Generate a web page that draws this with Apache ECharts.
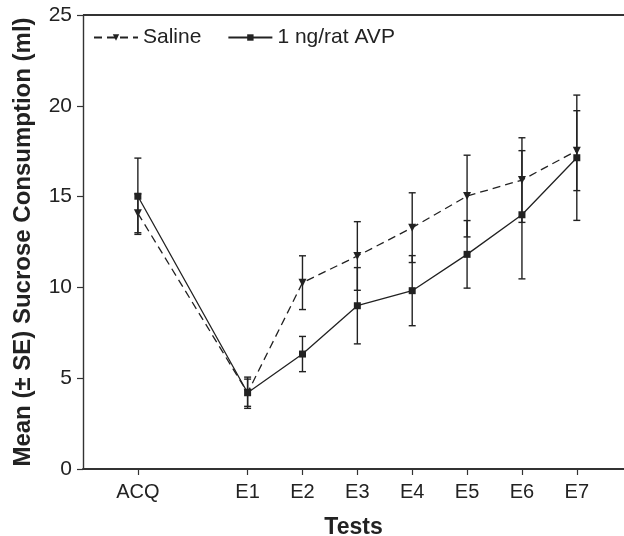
<!DOCTYPE html>
<html>
<head>
<meta charset="utf-8">
<script src="https://cdn.jsdelivr.net/npm/echarts@6/dist/echarts.min.js"></script>
<style>
  html, body { margin: 0; padding: 0; background: #fff; }
  #chart { width: 624px; height: 536px; }
</style>
</head>
<body>
<div id="chart"></div>
<script>
// test positions on the x axis (ACQ sits one extra step left of E1)
const tests = ['ACQ', 'E1', 'E2', 'E3', 'E4', 'E5', 'E6', 'E7']
const positions = [0, 2, 3, 4, 5, 6, 7, 8]

const salineMean = [14.08, 4.2, 10.26, 11.73, 13.29, 15.03, 15.91, 17.53]
const salineSE = [1.07, 0.75, 1.48, 1.89, 1.92, 2.25, 2.33, 2.2]
const avpMean = [15.02, 4.2, 6.33, 8.99, 9.82, 11.82, 14.0, 17.14]
const avpSE = [2.1, 0.86, 0.97, 2.1, 1.93, 1.86, 3.53, 3.45]

const yTicks = [0, 5, 10, 15, 20, 25]

const ink = '#222'
const pts = (means) => means.map((m, i) => [positions[i], m])
const bars = (means, se) => means.map((m, i) => [positions[i], m - se[i], m + se[i]])

const errorSeries = (name, data) => ({
  name: name,
  type: 'custom',
  data: data,
  z: 1,
  silent: true,
  encode: { x: 0, y: [1, 2] },
  renderItem: (params, api) => {
    const lo = api.coord([api.value(0), api.value(1)])
    const hi = api.coord([api.value(0), api.value(2)])
    const w = 3.5
    const style = { stroke: ink, lineWidth: 1.4 }
    return {
      type: 'group',
      children: [
        { type: 'line', shape: { x1: hi[0], y1: hi[1], x2: lo[0], y2: lo[1] }, style: style },
        { type: 'line', shape: { x1: hi[0] - w, y1: hi[1], x2: hi[0] + w, y2: hi[1] }, style: style },
        { type: 'line', shape: { x1: lo[0] - w, y1: lo[1], x2: lo[0] + w, y2: lo[1] }, style: style }
      ]
    }
  }
})

const option = {
  animation: false,
  backgroundColor: '#fff',
  textStyle: { fontFamily: 'Liberation Sans, Arial, sans-serif' },
  grid: { left: 83, top: 15, right: 0, bottom: 67, containLabel: false, outerBoundsMode: 'none' },
  legend: {
    left: 88,
    top: 22,
    itemWidth: 44,
    itemHeight: 8,
    itemGap: 26,
    textStyle: { fontSize: 21, color: ink },
    data: ['Saline', '1 ng/rat AVP']
  },
  xAxis: {
    type: 'value',
    min: -1,
    max: 8.86,
    name: 'Tests',
    nameLocation: 'middle',
    nameGap: 47,
    nameTextStyle: { fontSize: 23, fontWeight: 'bold', color: ink },
    splitLine: { show: false },
    axisLine: { lineStyle: { color: '#333', width: 1.8 } },
    axisTick: { length: 6, lineStyle: { color: '#333', width: 1.2 }, customValues: positions },
    axisLabel: {
      fontSize: 20,
      color: ink,
      margin: 13,
      customValues: positions,
      formatter: (v) => tests[positions.indexOf(v)] || ''
    }
  },
  yAxis: {
    type: 'value',
    min: 0,
    max: 25,
    interval: 5,
    name: 'Mean (± SE) Sucrose Consumption (ml)',
    nameLocation: 'middle',
    nameGap: 48,
    nameTextStyle: { fontSize: 24, fontWeight: 'bold', color: ink },
    splitLine: { show: false },
    axisLine: { show: true, onZero: false, lineStyle: { color: '#333', width: 1.4 } },
    axisTick: { show: true, length: 6, lineStyle: { color: '#333', width: 1.2 } },
    axisLabel: {
      fontSize: 21,
      color: ink,
      margin: 11,
      customValues: yTicks
    }
  },
  series: [
    errorSeries('Saline SE', bars(salineMean, salineSE)),
    errorSeries('AVP SE', bars(avpMean, avpSE)),
    {
      name: 'Saline',
      type: 'line',
      data: pts(salineMean),
      symbol: 'triangle',
      symbolRotate: 180,
      symbolSize: 8,
      z: 3,
      itemStyle: { color: ink },
      lineStyle: { color: ink, width: 1.3, type: [8, 5] }
    },
    {
      name: '1 ng/rat AVP',
      type: 'line',
      data: pts(avpMean),
      symbol: 'rect',
      symbolSize: 7,
      z: 4,
      itemStyle: { color: ink },
      lineStyle: { color: ink, width: 1.3 }
    }
  ],
  graphic: [
    {
      type: 'line',
      shape: { x1: 83, y1: 15, x2: 624, y2: 15 },
      style: { stroke: '#333', lineWidth: 1.8 }
    }
  ]
}

const chart = echarts.init(document.getElementById('chart'))
chart.setOption(option)
</script>
</body>
</html>
